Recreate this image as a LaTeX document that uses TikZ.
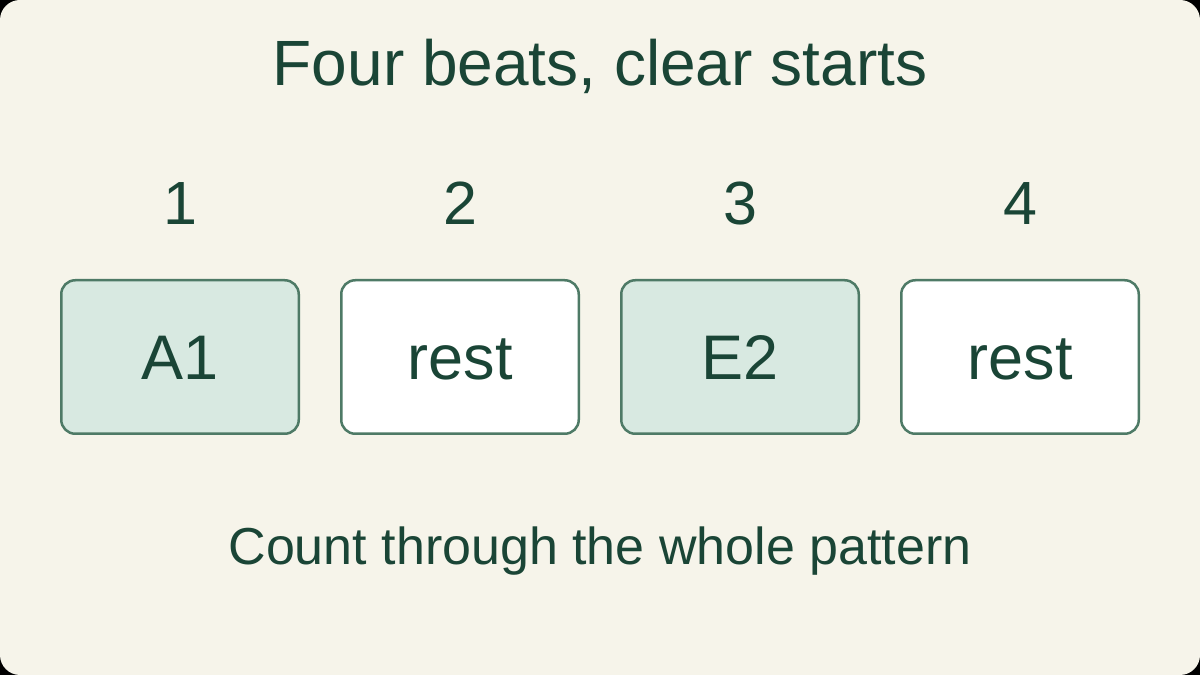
\documentclass[tikz,border=0pt]{standalone}
\usepackage{fontspec}
\setmainfont{Liberation Sans}
\usepackage{xcolor}
\usetikzlibrary{positioning}

\definecolor{cream}{HTML}{F6F4EA}
\definecolor{inkgreen}{HTML}{1A4536}
\definecolor{edgegreen}{HTML}{4E7A66}
\definecolor{softgreen}{HTML}{D8E9E1}

\begin{document}
\begin{tikzpicture}[
    x=1pt, y=1pt,
    node distance=40pt,
    beat/.style={rectangle, draw=edgegreen, line width=2.5pt, fill=white, minimum width=237.5pt, minimum height=153.5pt, rounded corners=14pt, text=inkgreen, font=\fontsize{63}{74}\selectfont, text height=45pt, text depth=0pt},
    note/.style={beat, fill=softgreen},
    count/.style={text=inkgreen, inner sep=0pt, font=\fontsize{61}{72}\selectfont},
    caption/.style={text=inkgreen, inner sep=0pt, anchor=base}
]
    % Background
    \fill[black] (0,0) rectangle (1200,675);
    \fill[cream, rounded corners=20pt] (0,0) rectangle (1200,675);
    \useasboundingbox (0,0) rectangle (1200,675);

    % Title
    \node[caption, font=\fontsize{64}{76}\selectfont] (title) at (600,589) {Four beats, clear starts};

    % Beat boxes
    \node[note] (b1) at (180,318) {A1};
    \node[beat, right=of b1] (b2) {rest};
    \node[note, right=of b2] (b3) {E2};
    \node[beat, right=of b3] (b4) {rest};

    % Counts
    \node[count, above=54pt of b1] (c1) {1};
    \node[count, above=54pt of b2] (c2) {2};
    \node[count, above=54pt of b3] (c3) {3};
    \node[count, above=54pt of b4] (c4) {4};

    % Footer
    \node[caption, font=\fontsize{52}{62}\selectfont] (foot) at (600,110) {Count through the whole pattern};
\end{tikzpicture}
\end{document}
